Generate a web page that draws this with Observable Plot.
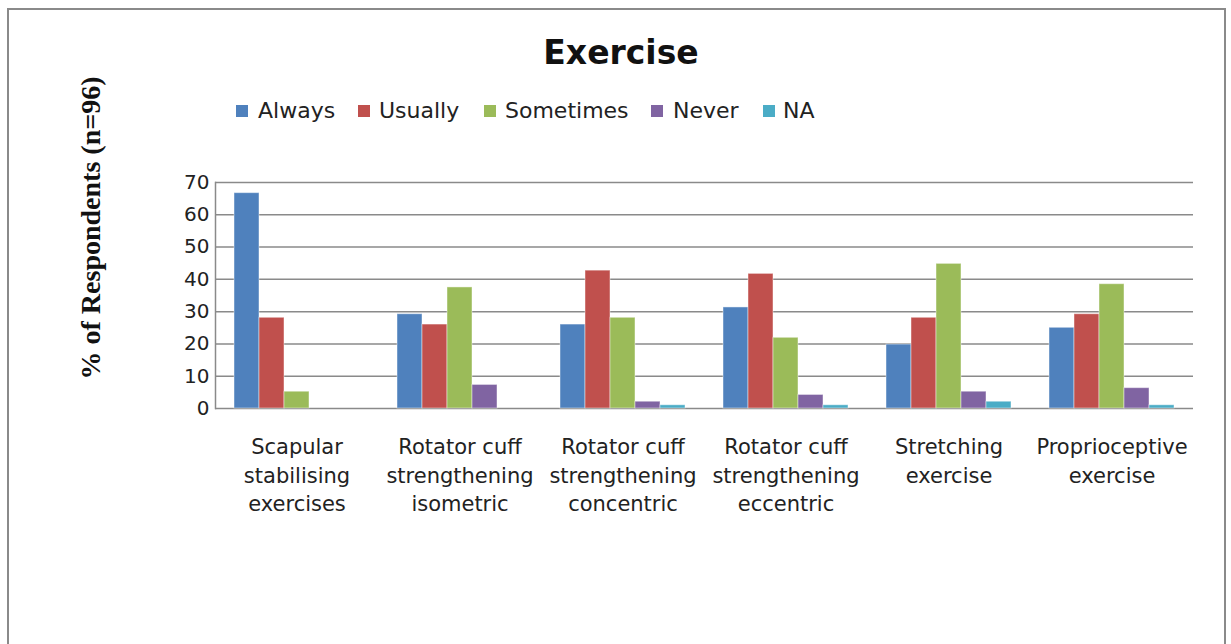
<!DOCTYPE html>
<html>
<head>
<meta charset="utf-8">
<script src="https://cdn.jsdelivr.net/npm/d3@7"></script>
<script src="https://cdn.jsdelivr.net/npm/@observablehq/plot@0.6"></script>
<style>
  html, body { margin: 0; padding: 0; background: #fff; }
  #wrap { position: relative; width: 1231px; height: 644px; overflow: hidden; font-family: "DejaVu Sans", sans-serif; color: #222; }
  #frame { position: absolute; left: 7px; top: 8px; width: 1219px; height: 700px; border: 2px solid #8a8a8a; box-sizing: border-box; }
  #grid, #chart { position: absolute; left: 0; top: 0; }
  #title { position: absolute; left: 0; width: 1242px; top: 33px; text-align: center; font-family: "DejaVu Sans", sans-serif; font-weight: bold; font-size: 33px; color: #111; }
  #legend { position: absolute; left: 0; top: 0; font-size: 22px; color: #222; }
  .sw { position: absolute; top: 105px; width: 12px; height: 12px; }
  .lt { position: absolute; top: 97px; line-height: 28px; white-space: nowrap; }
  #ylabel { position: absolute; left: 91px; top: 228px; transform: translate(-50%, -50%) rotate(-90deg); white-space: nowrap; font-family: "Liberation Serif", "Times New Roman", serif; font-weight: bold; font-size: 28px; color: #111; }
</style>
</head>
<body>
<div id="wrap">
  <div id="frame"></div>
  <div id="grid"></div>
  <div id="chart"></div>
  <div id="title">Exercise</div>
  <div id="legend"></div>
  <div id="ylabel">% of Respondents (n=96)</div>
</div>
<script>
const categories = [
  "Scapular\nstabilising\nexercises",
  "Rotator cuff\nstrengthening\nisometric",
  "Rotator cuff\nstrengthening\nconcentric",
  "Rotator cuff\nstrengthening\neccentric",
  "Stretching\nexercise",
  "Proprioceptive\nexercise"
];
const series = ["Always", "Usually", "Sometimes", "Never", "NA"];
const colors = ["#4F81BD", "#C0504D", "#9BBB59", "#8064A2", "#4BACC6"];
const always    = [66.7, 29.2, 26.0, 31.3, 19.8, 25.0];
const usually   = [28.1, 26.0, 42.7, 41.7, 28.1, 29.2];
const sometimes = [5.2, 37.5, 28.1, 21.9, 44.8, 38.5];
const never     = [0, 7.3, 2.1, 4.2, 5.2, 6.3];
const na        = [0, 0, 1.0, 1.0, 2.1, 1.0];
const yTicks = [0, 10, 20, 30, 40, 50, 60, 70];

const seriesValues = [always, usually, sometimes, never, na];
const data = [];
categories.forEach((c, i) => {
  series.forEach((s, j) => data.push({category: c, series: s, value: seriesValues[j][i]}));
});

const common = {
  width: 1231,
  height: 644,
  marginLeft: 215,
  marginRight: 38,
  marginTop: 182,
  marginBottom: 236,
  style: {fontFamily: "DejaVu Sans, sans-serif", color: "#222", background: "transparent"}
};

// background: gridlines and left axis line across the whole frame
const grid = Plot.plot({
  ...common,
  x: {axis: null},
  y: {domain: [0, 70], axis: null},
  marks: [
    Plot.gridY(yTicks, {stroke: "#8a8a8a", strokeOpacity: 1, strokeWidth: 1.5}),
    Plot.frame({anchor: "left", stroke: "#8a8a8a", strokeWidth: 1.5})
  ]
});
document.getElementById("grid").appendChild(grid);

const chart = Plot.plot({
  ...common,
  fx: {domain: categories, paddingInner: 0.222, paddingOuter: 0.111, label: null},
  x: {domain: series, padding: 0, axis: null},
  y: {domain: [0, 70], label: null},
  color: {domain: series, range: colors},
  marks: [
    Plot.barY(data, {fx: "category", x: "series", y: "value", fill: "series", stroke: "#ffffff", strokeOpacity: 0.45, strokeWidth: 1}),
    Plot.axisY(yTicks, {tickSize: 0, tickPadding: 24, fontSize: 20, label: null}),
    Plot.axisFx({anchor: "bottom", tickSize: 0, tickPadding: 25, fontSize: 21, lineHeight: 1.37, label: null})
  ]
});
document.getElementById("chart").appendChild(chart);

// legend (HTML, above the SVG)
const swatchLeft = [236, 358, 484, 651, 763];
const textLeft = [258, 379, 505, 673, 783];
const legend = document.getElementById("legend");
series.forEach((s, j) => {
  const sw = document.createElement("div");
  sw.className = "sw";
  sw.style.left = swatchLeft[j] + "px";
  sw.style.background = colors[j];
  const t = document.createElement("div");
  t.className = "lt";
  t.style.left = textLeft[j] + "px";
  t.textContent = s;
  legend.appendChild(sw);
  legend.appendChild(t);
});
</script>
</body>
</html>
